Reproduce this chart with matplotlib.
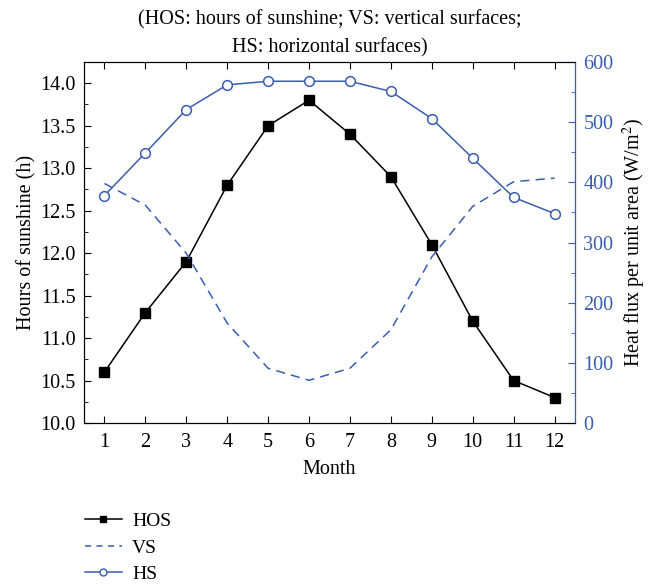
import numpy as np
from matplotlib import pyplot as plt
from matplotlib.ticker import MultipleLocator
from matplotlib.lines import Line2D

plt.rcParams["font.family"] = ["Liberation Serif", "DejaVu Serif"]
plt.rcParams["mathtext.fontset"] = "stix"

months = [1, 2, 3, 4, 5, 6, 7, 8, 9, 10, 11, 12]
hos = [10.6, 11.3, 11.9, 12.8, 13.5, 13.8, 13.4, 12.9, 12.1, 11.2, 10.5, 10.3]
vs = [398, 362, 282, 166, 91, 71, 91, 155, 276, 360, 401, 407]
hs = [378, 449, 521, 562, 568, 568, 568, 551, 506, 440, 375, 348]

blue = "#3a5daf"

fig = plt.figure(figsize=(6.57, 5.84), dpi=100)
ax = fig.add_axes([84 / 657, 1 - 423 / 584, 491 / 657, 361 / 584])
ax2 = ax.twinx()

ax.plot(months, hos, "-", color="black", lw=1.1, marker="s", ms=6.5, zorder=3)
ax2.plot(months, vs, color=blue, lw=1.1, dashes=(6, 4))
ax2.plot(months, hs, "-", color=blue, lw=1.1, marker="o", ms=7,
         markerfacecolor="white", markeredgecolor=blue, markeredgewidth=1.1)

ax.set_xlim(0.5, 12.5)
ax.set_ylim(10.0, 14.25)
ax2.set_ylim(0, 600)

ax.set_xticks(months)
ax.yaxis.set_major_locator(MultipleLocator(0.5))
ax.yaxis.set_minor_locator(MultipleLocator(0.25))
ax.yaxis.set_major_formatter(plt.FormatStrFormatter("%.1f"))
ax2.yaxis.set_major_locator(MultipleLocator(100))
ax2.yaxis.set_minor_locator(MultipleLocator(50))

fs = 14.5
ax.tick_params(axis="x", direction="in", top=True, length=5, labelsize=fs, pad=7)
ax.tick_params(axis="y", which="both", direction="in", labelsize=fs, pad=6)
ax.tick_params(axis="y", which="major", length=5)
ax.tick_params(axis="y", which="minor", length=3)
ax2.tick_params(axis="y", which="both", direction="in", colors=blue, labelsize=fs, pad=6)
ax2.tick_params(axis="y", which="major", length=5)
ax2.tick_params(axis="y", which="minor", length=3)
ax2.spines["right"].set_color(blue)

ax.set_xlabel("Month", fontsize=fs, labelpad=6)
ax.set_ylabel("Hours of sunshine (h)", fontsize=fs, labelpad=3)
ax2.set_ylabel("Heat flux per unit area (W/m$^2$)", fontsize=fs, color="black", labelpad=5)

fig.text(0.5015, 1 - 10 / 584, "(HOS: hours of sunshine; VS: vertical surfaces;\nHS: horizontal surfaces)",
         ha="center", va="top", fontsize=fs, linespacing=1.62)

handles = [
    Line2D([], [], color="black", lw=1.1, marker="s", ms=4.5),
    Line2D([], [], color=blue, lw=1.1, dashes=(4, 3.5)),
    Line2D([], [], color=blue, lw=1.1, marker="o", ms=5, markerfacecolor="white"),
]
fig.legend(handles, ["HOS", "VS", "HS"], loc="upper left",
           bbox_to_anchor=(0.108, 1 - 499 / 584), bbox_transform=fig.transFigure,
           frameon=False, fontsize=14, handlelength=1.9, handletextpad=0.55,
           labelspacing=0.45, borderpad=0.2)

fig.savefig("out.png", dpi=100)
